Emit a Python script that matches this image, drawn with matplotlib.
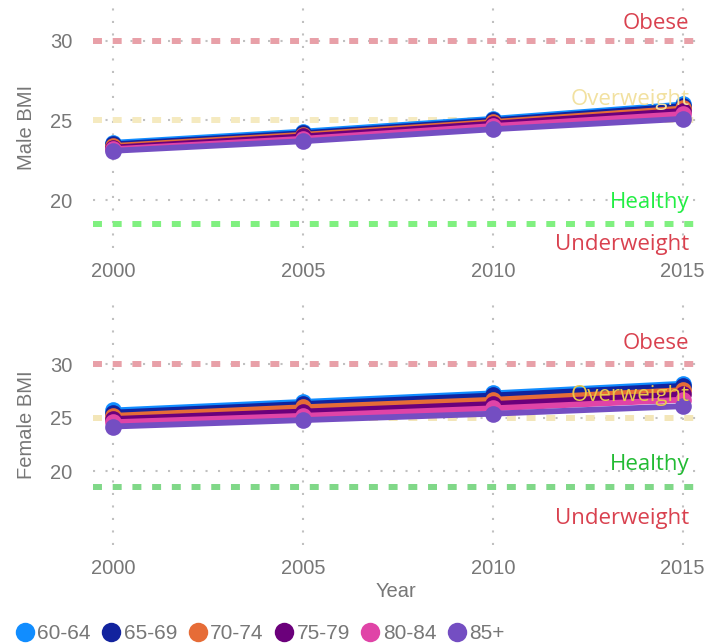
import matplotlib
matplotlib.use("Agg")
import matplotlib.pyplot as plt
from matplotlib.lines import Line2D

years = [2000, 2005, 2010, 2015]
age_groups = ["60-64", "65-69", "70-74", "75-79", "80-84", "85+"]
colors = ["#118DFF", "#12239E", "#E66C37", "#6B007B", "#E044A7", "#744EC2"]

male_60_64 = [23.6, 24.3, 25.1, 26.0]
male_65_69 = [23.5, 24.2, 25.0, 25.9]
male_70_74 = [23.4, 24.1, 24.9, 25.75]
male_75_79 = [23.3, 24.0, 24.8, 25.6]
male_80_84 = [23.2, 23.85, 24.65, 25.4]
male_85p = [23.1, 23.7, 24.45, 25.1]

female_60_64 = [25.7, 26.5, 27.3, 28.2]
female_65_69 = [25.5, 26.3, 27.1, 28.0]
female_70_74 = [25.2, 26.0, 26.7, 27.6]
female_75_79 = [24.9, 25.6, 26.3, 27.2]
female_80_84 = [24.6, 25.2, 25.9, 26.7]
female_85p = [24.2, 24.8, 25.4, 26.1]

male = [male_60_64, male_65_69, male_70_74, male_75_79, male_80_84, male_85p]
female = [female_60_64, female_65_69, female_70_74, female_75_79, female_80_84, female_85p]

thresholds = [30, 25, 18.5]
threshold_names = ["Obese", "Overweight", "Healthy", "Underweight"]
yticks = [20, 25, 30]
xticks = [2000, 2005, 2010, 2015]

GRAY = "#777777"
TICKFONT = "Liberation Sans"
LABELFONT = "Open Sans"

fig = plt.figure(figsize=(7.2, 6.43), dpi=100)
ax1 = fig.add_axes([0.129, 0.614, 0.843, 0.375])
ax2 = fig.add_axes([0.129, 0.152, 0.843, 0.376])

panels = [
    (ax1, male, "Male BMI", (17.0, 32.1),
     ["#E8A0A8", "#F5EAC0", "#80F080"],
     ["#D9414F", "#F2E1A0", "#22EE44", "#D9414F"],
     [30.72, 25.97, 19.53, 16.89]),
    (ax2, female, "Female BMI", (13.1, 35.7),
     ["#E8A0A8", "#F3E6B8", "#80D888"],
     ["#D9414F", "#E8C84A", "#22BB33", "#D9414F"],
     [31.4, 26.54, 20.1, 15.05]),
]

for ax, data, ylabel, ylim, linecols, textcols, textys in panels:
    ax.set_xlim(1999.47, 2015.45)
    ax.set_ylim(*ylim)
    for s in ax.spines.values():
        s.set_visible(False)
    ax.set_xticks(xticks)
    ax.set_yticks(yticks)
    ax.tick_params(length=0, colors=GRAY, labelsize=14.5)
    ax.tick_params(axis="x", pad=10)
    ax.tick_params(axis="y", pad=14.5)
    for lab in ax.get_xticklabels() + ax.get_yticklabels():
        lab.set_fontfamily(TICKFONT)
    ax.grid(True, color="#C0C0C0", linestyle=(0, (1, 5)), linewidth=1.5, zorder=0)
    ax.set_axisbelow(True)
    ax.set_ylabel(ylabel, color=GRAY, fontsize=14.5, family=TICKFONT, labelpad=10)

    for t, c in zip(thresholds, linecols):
        ax.axhline(t, color=c, linewidth=4.3, dashes=(1.5, 1.8), zorder=1)

    for name, c, ty in zip(threshold_names, textcols, textys):
        ax.text(2015.18, ty, name, ha="right", va="baseline", color=c,
                fontsize=16, family=LABELFONT, zorder=5)

    for vals, col in zip(data, colors):
        ax.plot(years, vals, color=col, linewidth=4.2, marker="o", markersize=12,
                markeredgewidth=0, zorder=3, solid_capstyle="round")

ax2.set_xlabel("Year", color=GRAY, fontsize=14.5, family=TICKFONT, labelpad=3)

handles = [Line2D([0], [0], marker="o", linestyle="none", markersize=14,
                  markerfacecolor=c, markeredgewidth=0) for c in colors]
leg = fig.legend(handles, age_groups, loc="lower left", bbox_to_anchor=(0.0, -0.02),
                 ncol=6, frameon=False, handletextpad=0.0, columnspacing=0.38,
                 handlelength=1.2, prop={"family": TICKFONT, "size": 15}, borderaxespad=0.2)
for t in leg.get_texts():
    t.set_color(GRAY)

fig.savefig("out.png", dpi=100)
